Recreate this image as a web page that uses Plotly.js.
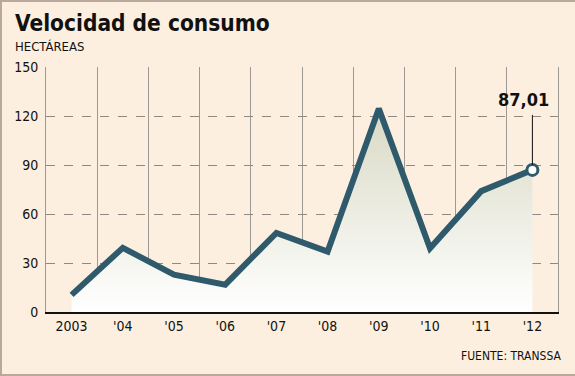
<!DOCTYPE html>
<html>
<head>
<meta charset="utf-8">
<script src="https://cdn.plot.ly/plotly-3.0.1.min.js"></script>
<style>
html,body{margin:0;padding:0;background:#fcefdf;}
#wrap{width:575px;height:376px;box-sizing:border-box;border:2px solid #b9a89b;border-right:none;overflow:hidden;position:relative;}
#chart{position:absolute;left:-2px;top:-2px;width:575px;height:376px;}
</style>
</head>
<body>
<div id="wrap"><div id="chart"></div></div>
<script>
const years = ['2003', "'04", "'05", "'06", "'07", "'08", "'09", "'10", "'11", "'12"];
const hectareas = [10.5, 39.3, 22.8, 16.7, 48.4, 37, 124.5, 39, 74, 87.01];
const yTicks = [0, 30, 60, 90, 120, 150];
const lastLabel = '87,01';

const idx = years.map((_, i) => i);
const lineColor = '#2f5a6c';
const lastX = idx[idx.length - 1], lastY = hectareas[hectareas.length - 1];

const traces = [
  {
    x: idx, y: hectareas, type: 'scatter', mode: 'lines',
    line: {color: lineColor, width: 6, shape: 'linear'},
    fill: 'tozeroy',
    fillgradient: {type: 'vertical', start: 0, stop: Math.max(...hectareas),
      colorscale: [[0, 'rgba(255,255,255,1)'], [1, 'rgb(216,217,196)']]},
    hoverinfo: 'skip'
  },
  {
    x: [lastX], y: [lastY],
    type: 'scatter', mode: 'markers',
    marker: {size: 11, color: '#ffffff', line: {color: lineColor, width: 3}},
    hoverinfo: 'skip'
  }
];

const plotTop = 67, plotBottom = 64, plotH = 376 - plotTop - plotBottom;
const py = (pix) => 1 + (plotTop - pix) / plotH;

const layout = {
  width: 575, height: 376,
  paper_bgcolor: '#fcefdf', plot_bgcolor: '#fcefdf',
  margin: {l: 46, r: 17, t: plotTop, b: plotBottom},
  showlegend: false,
  font: {family: 'DejaVu Sans, Verdana, sans-serif', color: '#111'},
  xaxis: {
    range: [-0.5, 9.5], tickmode: 'array', tickvals: idx, ticktext: years,
    showgrid: false, zeroline: false,
    showline: true, linecolor: '#111', linewidth: 2,
    ticks: '', tickfont: {size: 14, family: 'DejaVu Sans Condensed, DejaVu Sans, sans-serif', color: '#111'},
    minor: {tick0: 0.5, dtick: 1, showgrid: true, gridcolor: '#9c9994', gridwidth: 1},
    fixedrange: true
  },
  yaxis: {
    range: [0, 150], tickmode: 'array', tickvals: yTicks,
    showgrid: true, gridcolor: '#8d8a86', griddash: 'dash', gridwidth: 1,
    zeroline: false, showline: true, linecolor: '#9c9994', linewidth: 1, mirror: true,
    ticks: '', ticklabelstandoff: 4,
    tickfont: {size: 14, family: 'DejaVu Sans Condensed, DejaVu Sans, sans-serif', color: '#111'},
    fixedrange: true
  },
  annotations: [
    {text: '<b>Velocidad de consumo</b>', xref: 'paper', yref: 'paper', x: -0.064, y: py(23),
     xanchor: 'left', yanchor: 'middle', showarrow: false,
     font: {size: 22.5, family: 'DejaVu Sans Condensed, DejaVu Sans, sans-serif', color: '#111'}},
    {text: 'HECTÁREAS', xref: 'paper', yref: 'paper', x: -0.064, y: py(46),
     xanchor: 'left', yanchor: 'middle', showarrow: false,
     font: {size: 13, family: 'DejaVu Sans Condensed, DejaVu Sans, sans-serif', color: '#111'}},
    {text: 'FUENTE: TRANSSA', xref: 'paper', yref: 'paper', x: 1.01, y: py(356),
     xanchor: 'right', yanchor: 'middle', showarrow: false,
     font: {size: 12, family: 'DejaVu Sans Condensed, DejaVu Sans, sans-serif', color: '#111'}},
    {text: '<b>' + lastLabel + '</b>', x: lastX, y: lastY, xref: 'x', yref: 'y',
     showarrow: false, xanchor: 'center', yanchor: 'middle', xshift: -9, yshift: 70,
     font: {size: 18, family: 'DejaVu Sans Condensed, DejaVu Sans, sans-serif', color: '#111'}},
    {text: ' ', x: lastX, y: lastY, xref: 'x', yref: 'y',
     showarrow: true, arrowhead: 0, arrowwidth: 1, arrowcolor: '#111',
     ax: 0, ay: -57, standoff: 5, font: {size: 1}}
  ]
};

Plotly.newPlot('chart', traces, layout, {displayModeBar: false, staticPlot: true});
</script>
</body>
</html>
